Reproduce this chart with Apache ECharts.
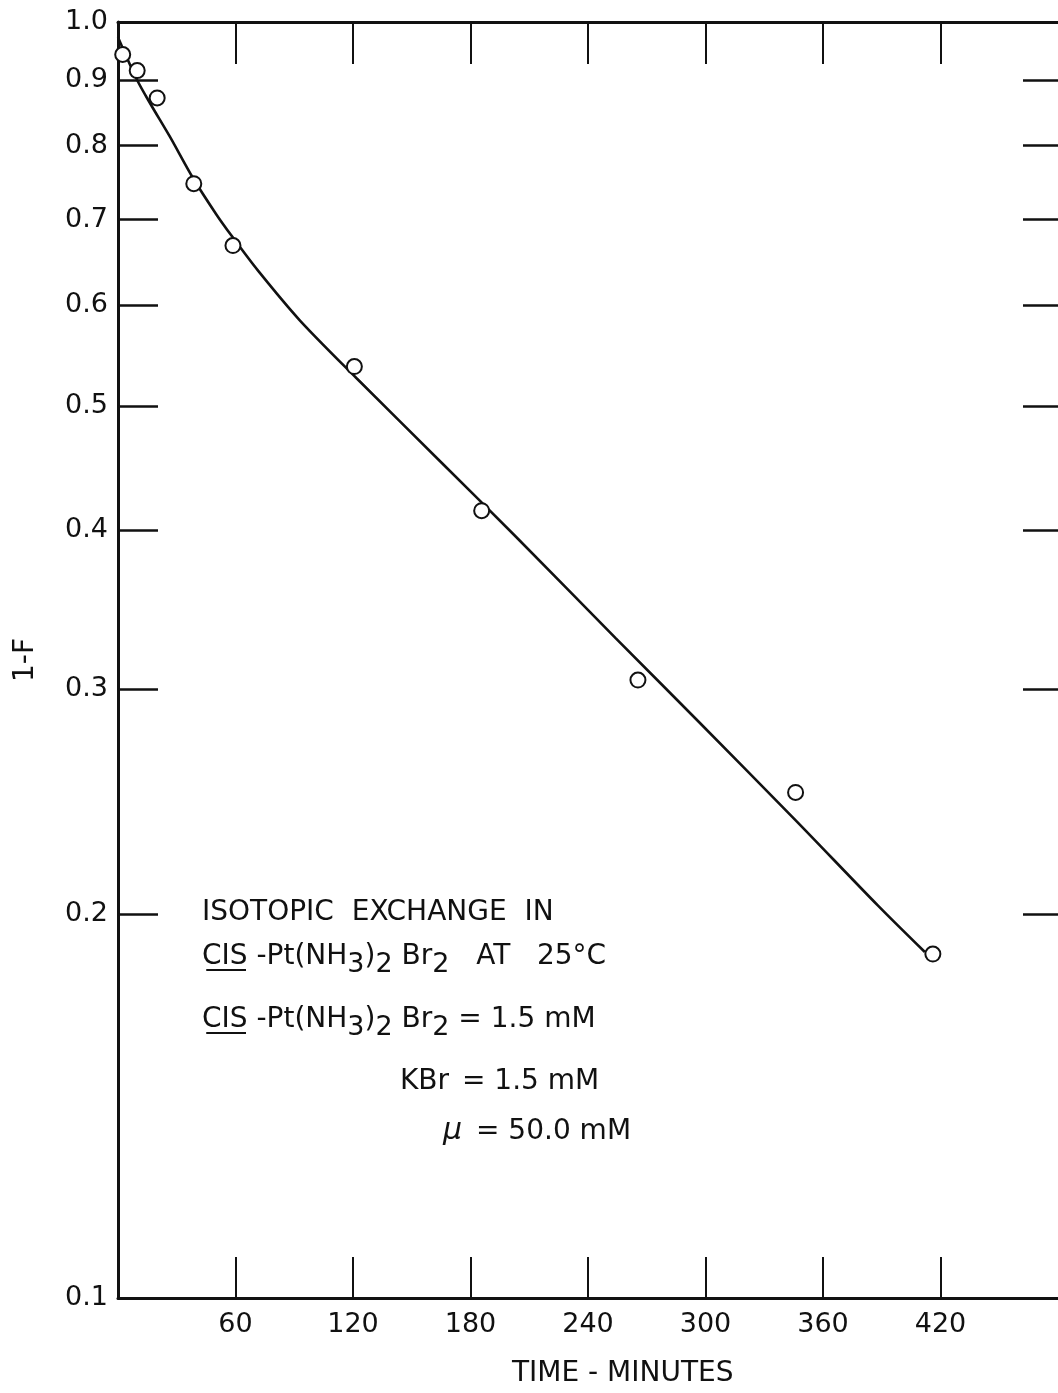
<!DOCTYPE html>
<html>
<head>
<meta charset="utf-8">
<script src="https://cdn.jsdelivr.net/npm/echarts@6/dist/echarts.min.js"></script>
<style>
html,body{margin:0;padding:0;background:#fff;}
#chart{width:1058px;height:1393px;}
</style>
</head>
<body>
<div id="chart"></div>
<script>
// Observed points (time in minutes, 1-F)
var timeObs = [2.4, 9.8, 20.0, 38.7, 58.7, 120.7, 185.7, 265.5, 346.0, 416.1];
var fracObs = [0.943, 0.916, 0.872, 0.747, 0.668, 0.537, 0.414, 0.305, 0.249, 0.186];
// Hand-drawn fitted curve
var curveTime = [0, 9.7, 16.3, 26.5, 38.2, 50.4, 58.6, 71.3, 92.7, 121.7, 165.5, 203.2, 254.1, 296.4, 345.8, 388.1, 412.0];
var curveFrac = [0.973, 0.901, 0.864, 0.813, 0.755, 0.706, 0.678, 0.639, 0.584, 0.526, 0.451, 0.395, 0.329, 0.283, 0.237, 0.203, 0.1867];
// Axis ticks
var xTickLabels = [60, 120, 180, 240, 300, 360, 420];
var yTickValues = [0.2, 0.3, 0.4, 0.5, 0.6, 0.7, 0.8, 0.9];
var yLabelValues = [0.1, 0.2, 0.3, 0.4, 0.5, 0.6, 0.7, 0.8, 0.9, 1.0];

var FONT = 'DejaVu Sans';
var INK = '#111';

var chart = echarts.init(document.getElementById('chart'), null, {renderer: 'canvas'});

function zip(a, b) { return a.map(function (v, i) { return [v, b[i]]; }); }

var rowStyles = {
  n: {fontFamily: FONT, fontSize: 28, color: INK},
  s: {fontFamily: FONT, fontSize: 27, color: INK, padding: [15, 0, 0, 0]},
  i: {fontFamily: FONT, fontSize: 30, color: INK, fontStyle: 'italic'}
};

function noteText(left, top, text) {
  return {
    type: 'text', left: left, top: top, z: 10,
    style: {text: text, rich: rowStyles, font: '28px ' + FONT, fill: INK}
  };
}

var option = {
  backgroundColor: '#fff',
  animation: false,
  grid: {left: 118, right: -2, top: 22, bottom: 95, containLabel: false},
  xAxis: [{
    type: 'value', position: 'bottom', min: 0, max: 480, interval: 60,
    axisLine: {show: true, onZero: false, lineStyle: {color: INK, width: 3}},
    axisTick: {show: true, inside: true, length: 41, customValues: xTickLabels, lineStyle: {color: INK, width: 2}},
    axisLabel: {
      show: true, margin: 13, fontFamily: FONT, fontSize: 27, color: INK,
      customValues: xTickLabels,
      formatter: function (v) { return String(v); }
    },
    splitLine: {show: false}
  }, {
    type: 'value', position: 'top', min: 0, max: 480, interval: 60,
    axisLine: {show: true, onZero: false, lineStyle: {color: INK, width: 3}},
    axisTick: {show: true, inside: true, length: 42, customValues: xTickLabels, lineStyle: {color: INK, width: 2}},
    axisLabel: {show: false},
    splitLine: {show: false}
  }],
  yAxis: [{
    type: 'log', logBase: 10, position: 'left', min: 0.1, max: 1,
    axisLine: {show: true, onZero: false, lineStyle: {color: INK, width: 3}},
    axisTick: {show: true, inside: true, length: 40, customValues: yTickValues, lineStyle: {color: INK, width: 2.5}},
    axisLabel: {
      show: true, margin: 10, fontFamily: FONT, fontSize: 27, color: INK,
      customValues: yLabelValues,
      formatter: function (v) { return Number(v).toFixed(1); }
    },
    splitLine: {show: false}
  }, {
    type: 'log', logBase: 10, position: 'right', min: 0.1, max: 1,
    axisLine: {show: false, onZero: false},
    axisTick: {show: true, inside: true, length: 35, customValues: yTickValues, lineStyle: {color: INK, width: 2.5}},
    axisLabel: {show: false},
    splitLine: {show: false}
  }],
  series: [{
    type: 'line', name: 'fit', xAxisIndex: 0, yAxisIndex: 0,
    data: zip(curveTime, curveFrac), smooth: 0.3, showSymbol: false, symbol: 'none',
    lineStyle: {color: INK, width: 2.6}, z: 2
  }, {
    type: 'scatter', name: 'observed', xAxisIndex: 0, yAxisIndex: 0,
    data: zip(timeObs, fracObs), symbol: 'circle', symbolSize: 15,
    itemStyle: {color: '#fff', borderColor: INK, borderWidth: 2, opacity: 1}, z: 3
  }],
  graphic: [
    {
      type: 'text', x: 26, y: 660, rotation: Math.PI / 2, z: 10,
      style: {text: '1-F', font: '28px ' + FONT, fill: INK, align: 'center', verticalAlign: 'middle'}
    },
    {
      type: 'text', left: 512, top: 1360, z: 10,
      style: {text: 'TIME - MINUTES', font: '28px ' + FONT, fill: INK}
    },
    noteText(202, 899, 'ISOTOPIC  EXCHANGE  IN'),
    noteText(202, 943, '{n|C̲I̲S̲ -Pt(NH}{s|3}{n|)}{s|2}{n| Br}{s|2}{n|   AT   25°C}'),
    noteText(202, 1006, '{n|C̲I̲S̲ -Pt(NH}{s|3}{n|)}{s|2}{n| Br}{s|2}{n| = 1.5 mM}'),
    noteText(400, 1068, '{n|KBr}'),
    noteText(462, 1068, '{n|= 1.5 mM}'),
    noteText(443, 1116, '{i|μ}'),
    noteText(476, 1118, '{n|= 50.0 mM}')
  ]
};
chart.setOption(option);
</script>
</body>
</html>
